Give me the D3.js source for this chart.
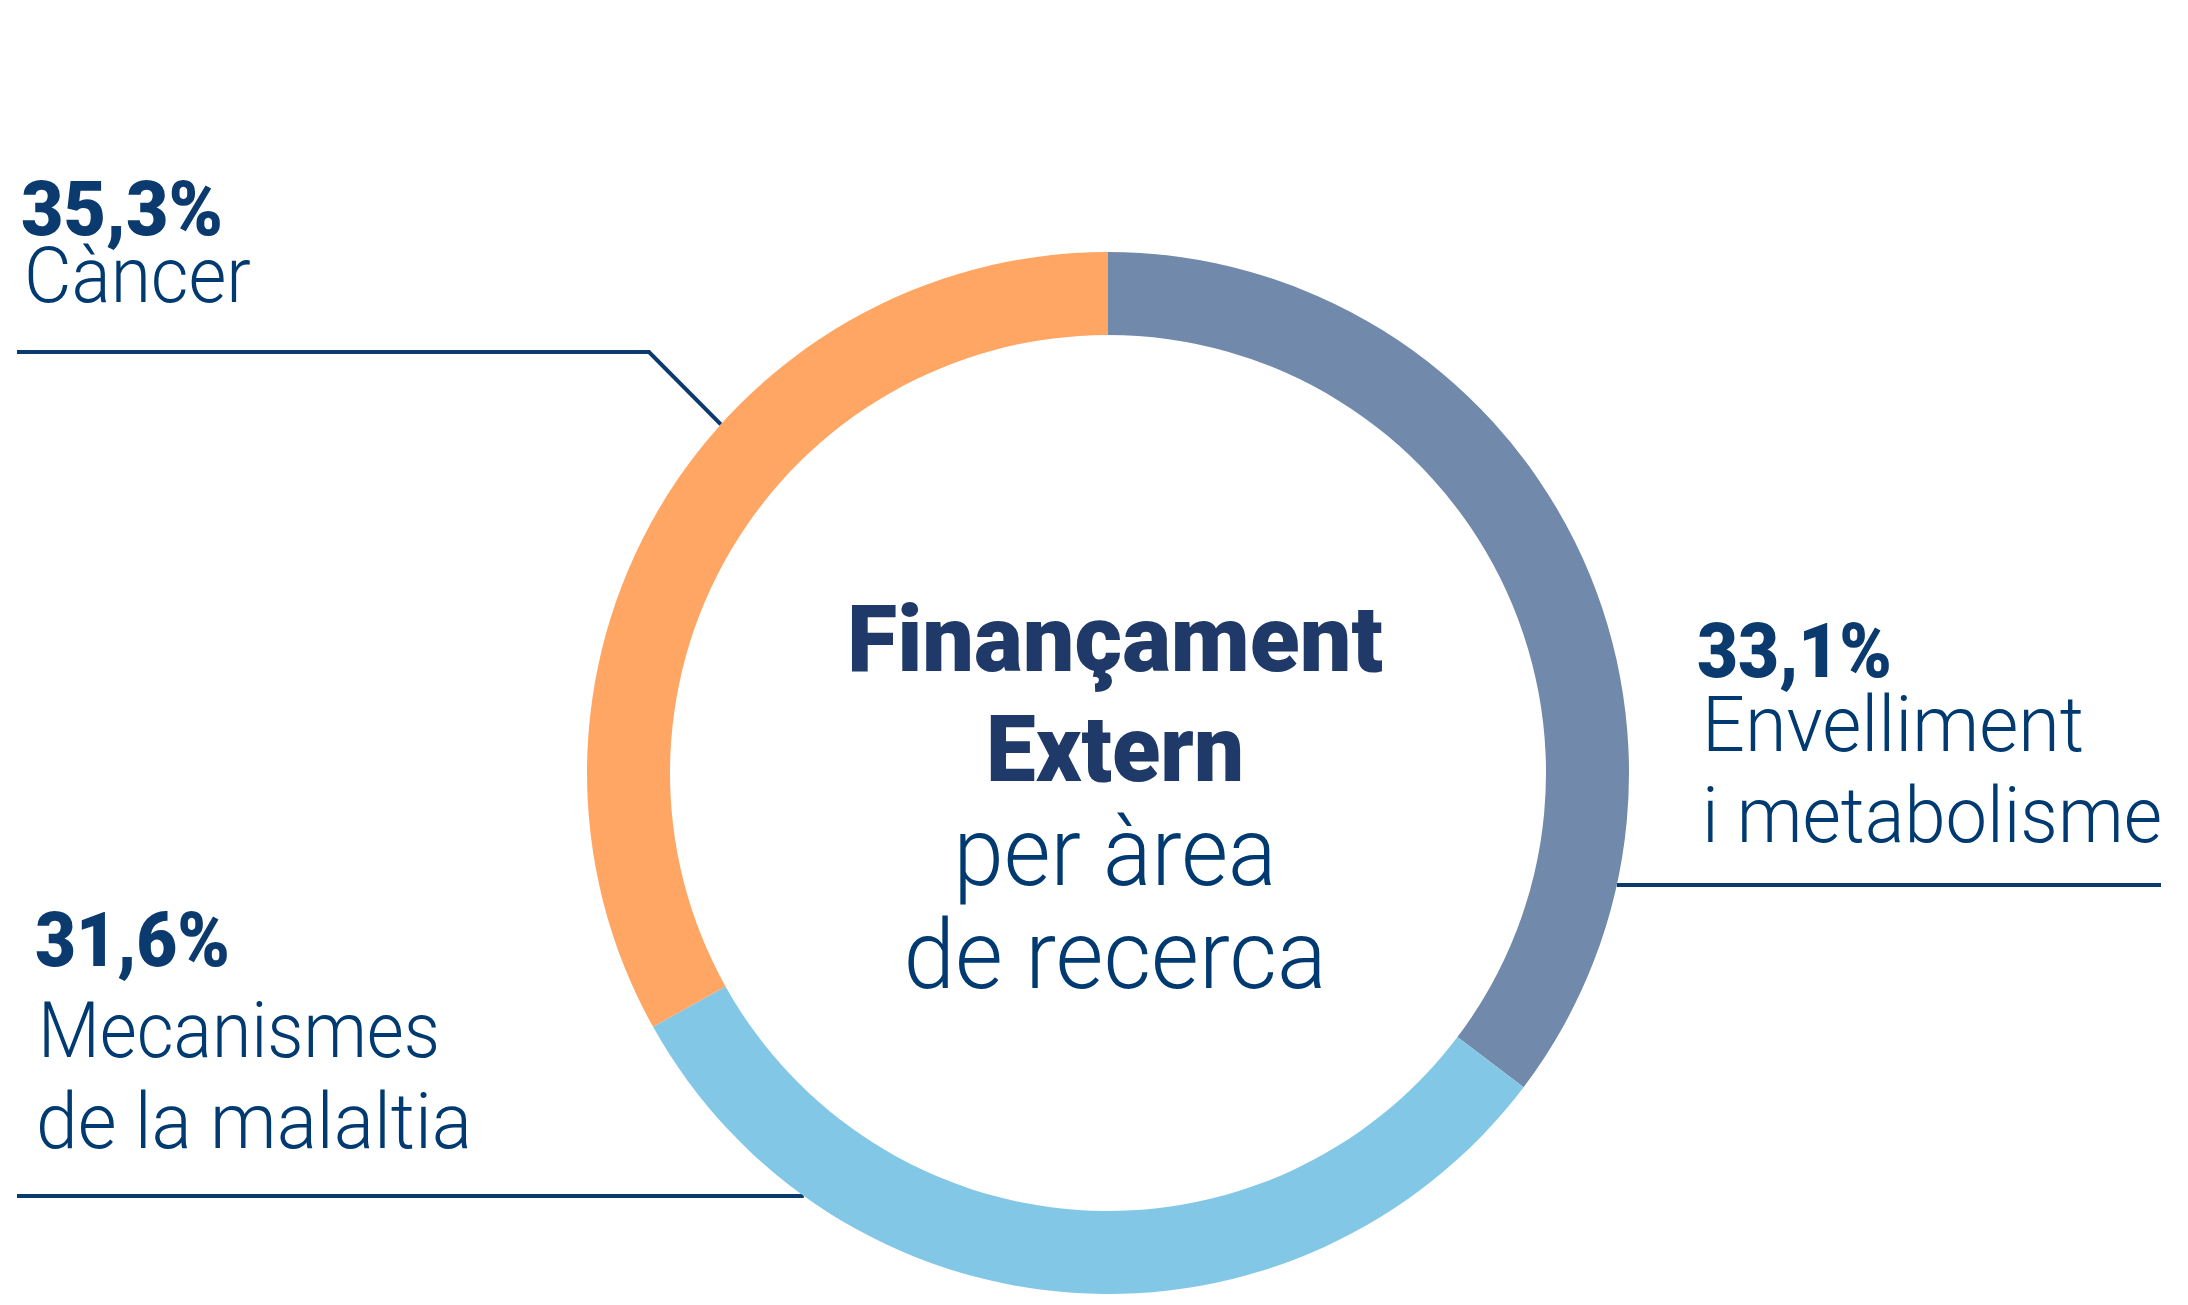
<!DOCTYPE html>
<html>
<head>
<meta charset="utf-8">
<script src="https://cdn.jsdelivr.net/npm/d3@7"></script>
<style>
  body { margin: 0; background: #fff; }
  text { font-family: Roboto, "Noto Sans", sans-serif; }
</style>
</head>
<body>
<div class="main"></div>
<script>

// slices as drawn, clockwise from 12 o'clock
const sliceValues = [35.3, 31.6, 33.1]
const sliceColors = ["#7189ab", "#82c8e6", "#ffa664"]

// labels as printed next to each slice
const labelPercents = ["33,1%", "31,6%", "35,3%"]
const labelNames = [["Envelliment", "i metabolisme"], ["Mecanismes", "de la malaltia"], ["Càncer"]]

const centerTitle = ["Finançament", "Extern"]
const centerSub = ["per àrea", "de recerca"]


const chart = () => {

    ////////////
    // CANVAS //
    ////////////

    const w = 2188
    const h = 1305
    const cx = 1108, cy = 773
    const outerR = 521, innerR = 438
    const navy = "#0b3a6f"

    const svg = d3.select(".main")
        .append("svg")
        .attr("width", w)
        .attr("height", h)

    const ring = svg.append("g")
        .attr("transform", `translate(${cx},${cy})`)

    // x where a horizontal line at y meets the outer ring
    const edgeX = (y, side) => side * Math.sqrt(outerR * outerR - (y - cy) * (y - cy))

    /////////////
    // LEADERS //
    /////////////

    const cancerAngle = 312 * Math.PI / 180
    const leaders = [
        [[edgeX(885, 1), 885 - cy], [2161 - cx, 885 - cy]],
        [[17 - cx, 1196 - cy], [edgeX(1196, -1), 1196 - cy]],
        [[17 - cx, 352 - cy], [649 - cx, 352 - cy],
         [outerR * Math.sin(cancerAngle), -outerR * Math.cos(cancerAngle)]]
    ]

    ring.selectAll("path.leader")
        .data(leaders)
        .enter()
        .append("path")
        .attr("class", "leader")
        .attr("d", d3.line())
        .attr("fill", "none")
        .attr("stroke", navy)
        .attr("stroke-width", 4)

    ////////////
    // DONUT  //
    ////////////

    const pie = d3.pie().sort(null).value(d => d)
    const arc = d3.arc().innerRadius(innerR).outerRadius(outerR)

    ring.selectAll("path.slice")
        .data(pie(sliceValues))
        .enter()
        .append("path")
        .attr("class", "slice")
        .attr("d", arc)
        .attr("fill", (d, i) => sliceColors[i])

    ////////////
    // LABELS //
    ////////////

    const labelLayout = [
        { pct: { x: 1697, y: 677, w: 195 }, lines: [{ x: 1702, y: 751, w: 382 }, { x: 1702, y: 842, w: 460 }] },
        { pct: { x: 35, y: 966, w: 195 }, lines: [{ x: 38, y: 1057, w: 402 }, { x: 36, y: 1148, w: 436 }] },
        { pct: { x: 21, y: 235, w: 202 }, lines: [{ x: 24, y: 302, w: 227 }] }
    ]

    labelPercents.forEach((p, i) => {
        const lay = labelLayout[i]
        svg.append("text")
            .text(p)
            .attr("x", lay.pct.x)
            .attr("y", lay.pct.y)
            .attr("textLength", lay.pct.w)
            .attr("lengthAdjust", "spacingAndGlyphs")
            .style("font-size", "76px")
            .style("font-weight", 900)
            .style("fill", navy)

        labelNames[i].forEach((t, j) => {
            const l = lay.lines[j]
            svg.append("text")
                .text(t)
                .attr("x", l.x)
                .attr("y", l.y)
                .attr("textLength", l.w)
                .attr("lengthAdjust", "spacingAndGlyphs")
                .style("font-size", "78px")
                .style("font-weight", 300)
                .style("fill", "#003a70")
        })
    })

    /////////////////
    // CENTER TEXT //
    /////////////////

    const centerX = 1115
    const titleLayout = [{ y: 671, w: 536 }, { y: 781, w: 258 }]
    const subLayout = [{ y: 885, w: 323 }, { y: 988, w: 423 }]

    svg.selectAll("text.title")
        .data(centerTitle)
        .enter()
        .append("text")
        .attr("class", "title")
        .text(d => d)
        .attr("x", centerX)
        .attr("y", (d, i) => titleLayout[i].y)
        .attr("textLength", (d, i) => titleLayout[i].w)
        .attr("lengthAdjust", "spacingAndGlyphs")
        .attr("text-anchor", "middle")
        .style("font-size", "93px")
        .style("font-weight", 900)
        .style("fill", "#1f3a68")

    svg.selectAll("text.sub")
        .data(centerSub)
        .enter()
        .append("text")
        .attr("class", "sub")
        .text(d => d)
        .attr("x", centerX)
        .attr("y", (d, i) => subLayout[i].y)
        .attr("textLength", (d, i) => subLayout[i].w)
        .attr("lengthAdjust", "spacingAndGlyphs")
        .attr("text-anchor", "middle")
        .style("font-size", "96px")
        .style("font-weight", 300)
        .style("fill", "#003a70")

}

chart()

</script>
</body>
</html>
